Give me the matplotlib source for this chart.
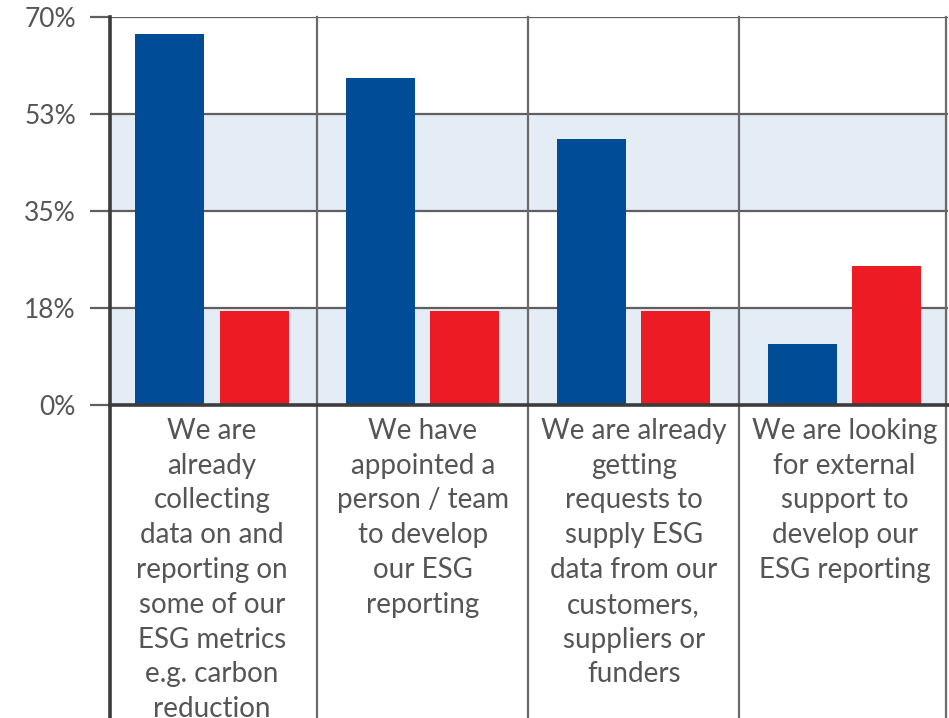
import matplotlib
matplotlib.use('Agg')

import matplotlib.pyplot as plt
from matplotlib.lines import Line2D
import numpy as np

categories = [
    'We are\nalready\ncollecting\ndata on and\nreporting on\nsome of our\nESG metrics\ne.g. carbon\nreduction',
    'We have\nappointed a\nperson / team\nto develop\nour ESG\nreporting',
    'We are already\ngetting\nrequests to\nsupply ESG\ndata from our\ncustomers,\nsuppliers or\nfunders',
    'We are looking\nfor external\nsupport to\ndevelop our\nESG reporting',
]
blue_vals = [67, 59, 48, 11]
red_vals = [17, 17, 17, 25]
yticks = [0, 17.5, 35, 52.5, 70]
ytick_labels = ['0%', '18%', '35%', '53%', '70%']

blue = '#004c97'
red = '#ed1c24'
band = '#e4ecf5'
grid = '#5f5f5f'
txt = '#555555'

plt.rcParams['font.family'] = ['Lato', 'DejaVu Sans']

W, H = 949, 718
fig = plt.figure(figsize=(W / 100, H / 100), dpi=100)
ax = fig.add_axes([110 / W, 1 - 405 / H, (948 - 110) / W, (405 - 17) / H])

x = np.arange(len(categories))
ax.set_xlim(-0.483, 3.49)
ax.set_ylim(0, 70)

# shaded bands 0-18% and 35-53%
ax.axhspan(yticks[0], yticks[1], color=band, zorder=0, lw=0)
ax.axhspan(yticks[2], yticks[3], color=band, zorder=0, lw=0)

w = 0.327
ax.bar(x - 0.2, blue_vals, width=w, color=blue, zorder=3)
ax.bar(x + 0.2, red_vals, width=w, color=red, zorder=3)

for y in yticks[1:]:
    ax.axhline(y, color=grid, lw=1.6, zorder=2)

# column dividers run down through the label area
ybot = -(H - 405) / (405 - 17)
for xv in list(x[:-1] + 0.5) + [3.479]:
    ax.add_line(Line2D([xv, xv], [ybot * 70, 70], color='#6a6a6a', lw=1.6,
                       clip_on=False, zorder=2))
ax.add_line(Line2D([-0.483, -0.483], [ybot * 70, 70], color='#3c3c3c', lw=2.6,
                   clip_on=False, zorder=4))
ax.axhline(0, color='#3c3c3c', lw=2.6, zorder=4, clip_on=False)

for s in ax.spines.values():
    s.set_visible(False)

ax.set_yticks(yticks)
ax.set_yticklabels(ytick_labels, fontsize=19, color=txt)
ax.tick_params(axis='y', length=14.5, width=1.6, color=grid, pad=10)
ax.set_xticks([])

for xi, lab in zip(x, categories):
    ax.text(xi, -2.3, lab, ha='center', va='top', fontsize=20, color=txt,
            linespacing=1.42, clip_on=False)

plt.savefig('out.png', dpi=100)
